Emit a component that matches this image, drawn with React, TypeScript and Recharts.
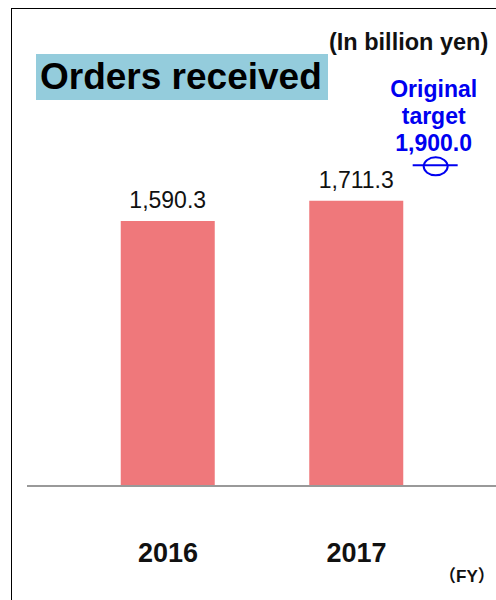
import React from "react";
import { ComposedChart, Bar, Scatter, XAxis, YAxis, LabelList } from "recharts";

const years = ["2016", "2017"];
const orders = [1590.3, 1711.3];
const targetValue = 1900.0;
const targetLines = ["Original", "target", "1,900.0"];

const barData = years.map((year, i) => ({ x: i, value: orders[i], year }));
const targetData = [{ x: 1.42, value: targetValue }];

const FONT = "'Liberation Sans', Arial, sans-serif";
const BLUE = "#0000F0";
const X_DOMAIN = [-0.748, 1.74];

const YearTick = ({ x, y, payload }: any) => (
    <text x={x} y={y + 76} textAnchor="middle" fontFamily={FONT} fontWeight="bold" fontSize={27} fill="#111">
        {years[payload.value]}
    </text>
);

const TargetMark = ({ cx, cy }: any) => {
    const cyy = cy - 3;
    return (
        <g>
            {targetLines.map((t, i) => (
                <text key={t} x={cx - 2} y={cyy - 69 + i * 27} textAnchor="middle"
                    fontFamily={FONT} fontWeight="bold" fontSize={23} fill={BLUE}>
                    {t}
                </text>
            ))}
            <ellipse cx={cx} cy={cyy} rx={12} ry={9} fill="none" stroke={BLUE} strokeWidth={2} />
            <line x1={cx - 23} x2={cx + 22} y1={cyy - 1} y2={cyy - 1} stroke={BLUE} strokeWidth={2} />
        </g>
    );
};

const fmt = (v: number) => v.toLocaleString("en-US", { minimumFractionDigits: 1, maximumFractionDigits: 1 });

export default function App() {
    return (
        <div style={{ position: "absolute", left: 0, top: 0, width: 496, height: 600, overflow: "hidden", background: "#fff" }}>
            <ComposedChart width={496} height={600} data={barData}
                margin={{ top: 46, right: 0, left: 27, bottom: 0 }}>
                <XAxis dataKey="x" type="number" domain={X_DOMAIN} allowDataOverflow
                    ticks={[0, 1]} tick={<YearTick />} tickLine={false} tickSize={0} tickMargin={0}
                    height={114} axisLine={{ stroke: "#999", strokeWidth: 2 }} />
                <XAxis xAxisId="t" dataKey="x" type="number" domain={X_DOMAIN} allowDataOverflow hide height={114} />
                <YAxis hide domain={[0, 2640]} allowDataOverflow />
                <Bar dataKey="value" fill="#EF787B" barSize={94} isAnimationActive={false}>
                    <LabelList dataKey="value" position="top" offset={13} formatter={fmt}
                        style={{ fontFamily: FONT, fontSize: 23, fill: "#111" }} />
                </Bar>
                <Scatter xAxisId="t" data={targetData} dataKey="value" shape={<TargetMark />} isAnimationActive={false} />
            </ComposedChart>

            <div style={{ position: "absolute", left: 11, top: 8, width: 600, height: 700, borderLeft: "1.5px solid #000", borderTop: "1.5px solid #000" }} />

            <div style={{ position: "absolute", left: 36, top: 54, width: 292, height: 46, background: "#94CCDC",
                fontFamily: FONT, fontWeight: "bold", fontSize: 37, lineHeight: "46px", color: "#000", paddingLeft: 4, boxSizing: "border-box", whiteSpace: "nowrap" }}>
                Orders received
            </div>

            <div style={{ position: "absolute", left: 329, top: 28, fontFamily: FONT, fontWeight: "bold", fontSize: 23.5, lineHeight: "28px", color: "#111", whiteSpace: "nowrap" }}>
                (In billion yen)
            </div>

            <div style={{ position: "absolute", left: 439, top: 566, fontFamily: "'Liberation Sans', 'Noto Sans CJK JP', sans-serif", fontWeight: "bold", fontSize: 17, lineHeight: "22px", color: "#111", whiteSpace: "nowrap" }}>
                （FY）
            </div>
        </div>
    );
}
